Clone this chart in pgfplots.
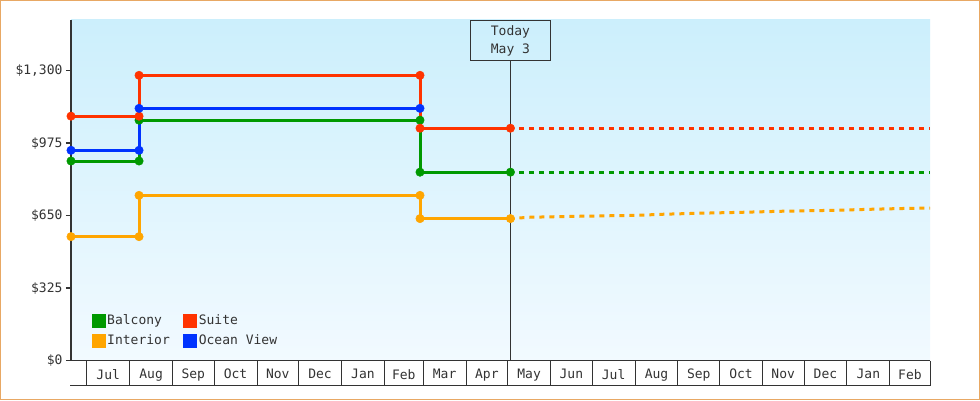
\documentclass[border=0pt]{standalone}
\usepackage{fontspec}
\setmainfont{DejaVu Sans Mono}
\usepackage{pgfplots}
\pgfplotsset{compat=1.18}

\definecolor{balcony}{HTML}{009900}
\definecolor{suite}{HTML}{FF3300}
\definecolor{interior}{HTML}{FFA500}
\definecolor{ocean}{HTML}{0033FF}
\definecolor{ink}{HTML}{333333}
\definecolor{bgtop}{HTML}{CCEFFC}
\definecolor{bgbot}{HTML}{F2FAFF}
\definecolor{frame}{HTML}{E8A864}

\newcommand\lbl{\fontsize{13bp}{18bp}\selectfont}

\begin{document}
\begin{tikzpicture}[x=1bp,y=1bp]
\useasboundingbox (0,0) rectangle (980,400);
\fill[white] (0,0) rectangle (980,400);
\draw[frame,line width=1bp] (0.5,0.5) rectangle (979.5,399.5);
\begin{axis}[
  at={(71bp,39.3bp)}, anchor=south west,
  scale only axis, width=859bp, height=340.7bp,
  xmin=-11.34, xmax=609, ymin=0, ymax=1527,
  clip=false,
  axis x line*=bottom, axis y line*=left,
  x axis line style={ink, line width=1bp, -},
  y axis line style={ink, line width=2.5bp, -},
  axis background/.style={top color=bgtop, bottom color=bgbot},
  tick align=outside,
  major tick length=5bp,
  minor tick length=25bp,
  ytick={0,325,650,975,1300},
  yticklabels={\$0,\$325,\$650,\$975,{\$1,300}},
  ytick style={ink, line width=1.5bp},
  xtick={15.5,46.5,77,107.5,138,168.5,199.5,229,258.5,289,319.5,350,380.5,411.5,442,472.5,503,533.5,564.5,594.5},
  xticklabels={Jul,Aug,Sep,Oct,Nov,Dec,Jan,Feb,Mar,Apr,May,Jun,Jul,Aug,Sep,Oct,Nov,Dec,Jan,Feb},
  major x tick style={draw=none},
  minor xtick={0,31,62,92,123,153,184,215,243,274,304,335,365,396,427,457,488,518,549,580,609},
  minor x tick style={ink, line width=1bp},
  tick label style={font=\lbl, text=ink},
  legend columns=2,
  legend cell align=left,
  legend style={draw=none, fill=none, inner sep=0pt, font=\lbl, text=ink,
    at={(0.0239,0.141)}, anchor=north west, row sep=4bp,
    nodes={inner sep=1.5bp, text height=10bp, text depth=3bp},
    /tikz/every even column/.append style={column sep=12bp}},
  legend image code/.code={\fill[#1] (0bp,-5.5bp) rectangle (11bp,5.5bp);},
  every axis plot/.append style={line width=3bp, mark=*, mark size=4.2bp,
    mark options={solid, line width=0.5bp}},
]
\node[draw=ink, line width=0.8bp, anchor=north, minimum width=80.5bp,
  minimum height=40.5bp, align=center, font=\lbl, text=ink, inner sep=0pt]
  (today) at (axis cs:306,1527) {Today\\May 3};
\draw[ink, line width=0.8bp] (today.south) -- (axis cs:306,0);

\addplot[balcony] coordinates {(-11.34,895) (37.8,895) (37.8,1078) (240.7,1078) (240.7,845) (306,845)};
\addlegendentry{Balcony}
\addplot[suite] coordinates {(-11.34,1096) (37.8,1096) (37.8,1279) (240.7,1279) (240.7,1042) (306,1042)};
\addlegendentry{Suite}
\addplot[interior] coordinates {(-11.34,556) (37.8,556) (37.8,741) (240.7,741) (240.7,637) (306,637)};
\addlegendentry{Interior}
\addplot[ocean] coordinates {(-11.34,943) (37.8,943) (37.8,1131) (240.7,1131)};
\addlegendentry{Ocean View}

\addplot[balcony, no marks, forget plot, dash pattern=on 5bp off 5bp, dash phase=1bp]
  coordinates {(306,845) (609,845)};
\addplot[suite, no marks, forget plot, dash pattern=on 5bp off 5bp, dash phase=1bp]
  coordinates {(306,1042) (609,1042)};
\addplot[interior, no marks, forget plot, dash pattern=on 5bp off 5bp, dash phase=1bp]
  coordinates {(306,637) (320,643) (352,647) (400,652) (414,656) (443,661) (472,665) (503,670) (539,674) (568,679) (595,683) (609,684)};
\end{axis}
\draw[ink, line width=1bp] (70,15) -- (930.5,15);
\end{tikzpicture}
\end{document}
